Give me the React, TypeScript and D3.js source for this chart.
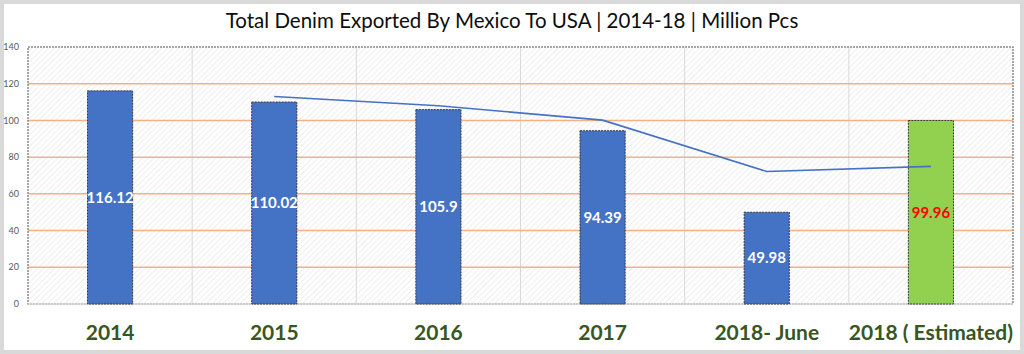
import React from 'react';
import * as d3 from 'd3';

const width = 1024;
const height = 354;
const margin = { top: 47, right: 11, bottom: 50, left: 28 };

const categories = ['2014', '2015', '2016', '2017', '2018- June', '2018 ( Estimated)'];
const exported = [116.12, 110.02, 105.9, 94.39, 49.98, 99.96];
// trend line starts at 2015
const trendCategories = ['2015', '2016', '2017', '2018- June', '2018 ( Estimated)'];
const trend = [113.07, 107.96, 100.15, 72.19, 74.97];
const yTicks = [0, 20, 40, 60, 80, 100, 120, 140];

const font = 'Lato, "Open Sans", sans-serif';

const App = () => {
  const xScale = d3
    .scaleBand()
    .domain(categories)
    .range([margin.left, width - margin.right]);
  const yScale = d3
    .scaleLinear()
    .domain([0, 140])
    .range([height - margin.bottom, margin.top]);

  const bw = xScale.bandwidth();
  const barW = bw * 0.275;
  const plotTop = yScale(140);
  const plotBottom = yScale(0);

  const line = d3
    .line<number>()
    .x((d, i) => (xScale(trendCategories[i]) as number) + bw / 2)
    .y(d => yScale(d));

  return (
    <svg width={width} height={height} style={{ position: 'absolute', left: 0, top: 0 }}>
      <defs>
        <pattern id="hatch" width="4" height="4" patternUnits="userSpaceOnUse" patternTransform="rotate(45)">
          <rect width="4" height="4" fill="#ffffff" />
          <line x1="0" y1="0" x2="0" y2="4" stroke="#e6e6e6" strokeWidth="1.3" />
        </pattern>
      </defs>
      <rect x={2} y={2} width={width - 4} height={height - 4} fill="#fff" stroke="#d9d9d9" strokeWidth={4} />

      <text x={width / 2} y={28} textAnchor="middle" fontFamily={font} fontSize={20.5} fill="#0d0d0d">
        Total Denim Exported By Mexico To USA | 2014-18 | Million Pcs
      </text>

      <rect
        x={margin.left}
        y={plotTop}
        width={width - margin.left - margin.right}
        height={plotBottom - plotTop}
        fill="url(#hatch)"
      />

      {categories.slice(1).map(c => (
        <line key={c} x1={xScale(c)} x2={xScale(c)} y1={plotTop} y2={plotBottom} stroke="#d9d9d9" strokeWidth={1} />
      ))}

      {yTicks.filter(t => t > 0 && t < 140).map(t => (
        <line key={t} x1={margin.left} x2={width - margin.right} y1={yScale(t)} y2={yScale(t)} stroke="#f4b183" strokeWidth={1.5} />
      ))}

      <rect
        x={margin.left}
        y={plotTop}
        width={width - margin.left - margin.right}
        height={plotBottom - plotTop}
        fill="none"
        stroke="#8a8a8a"
        strokeWidth={1.5}
        strokeDasharray="2,1"
      />
      <line x1={margin.left} x2={width - margin.right} y1={plotBottom} y2={plotBottom} stroke="#d9d9d9" strokeWidth={1.5} />

      {yTicks.map(t => (
        <text key={t} x={19} y={yScale(t)} dy="0.35em" textAnchor="end" fontFamily={font} fontSize={9} fill="#595959">
          {t}
        </text>
      ))}

      {exported.map((v, i) => {
        const cx = (xScale(categories[i]) as number) + bw / 2;
        const est = i === exported.length - 1;
        return (
          <g key={categories[i]}>
            <rect
              x={cx - barW / 2}
              y={yScale(v)}
              width={barW}
              height={plotBottom - yScale(v)}
              fill={est ? '#92d050' : '#4472c4'}
              stroke="#3a3a3a"
              strokeWidth={1}
              strokeDasharray="2,1"
            />
            <text
              x={cx}
              y={(yScale(v) + plotBottom) / 2}
              dy="0.35em"
              textAnchor="middle"
              fontFamily={font}
              fontWeight="bold"
              fontSize={15}
              fill={est ? '#ff0000' : '#ffffff'}
            >
              {v}
            </text>
          </g>
        );
      })}

      <path d={line(trend) || ''} fill="none" stroke="#4472c4" strokeWidth={1.6} />

      {categories.map(c => (
        <text
          key={c}
          x={(xScale(c) as number) + bw / 2}
          y={340}
          textAnchor="middle"
          fontFamily={font}
          fontWeight="bold"
          fontSize={21}
          fill="#375623"
        >
          {c}
        </text>
      ))}
    </svg>
  );
};

export default App;
